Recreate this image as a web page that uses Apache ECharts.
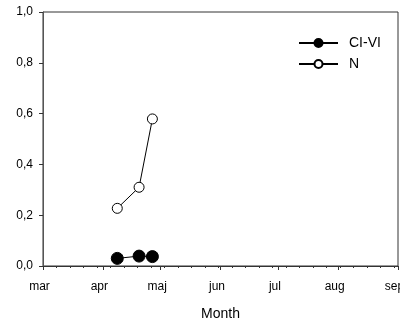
<!DOCTYPE html>
<html>
<head>
<meta charset="utf-8">
<script src="https://cdn.jsdelivr.net/npm/echarts@6/dist/echarts.min.js"></script>
<style>html,body{margin:0;padding:0;background:#fff}#c{width:400px;height:324px}</style>
</head>
<body>
<div id="c"></div>
<script>
// Days counted from 1 March
var monthStarts = [0, 31, 61, 92, 122, 153, 184];
var monthLabels = ['mar', 'apr', 'maj', 'jun', 'jul', 'aug', 'sep'];
var sampleDays = [38.5, 49.8, 56.7];
var civiValues = [0.030, 0.039, 0.037];
var nValues = [0.227, 0.310, 0.579];
var yTicks = [0, 0.2, 0.4, 0.6, 0.8, 1.0];

var FONT = 'Liberation Sans, Arial, sans-serif';
var chart = echarts.init(document.getElementById('c'), null, {renderer: 'canvas'});

function pairs(xs, ys) { return xs.map(function (x, i) { return [x, ys[i]]; }); }

chart.setOption({
  animation: false,
  backgroundColor: '#fff',
  grid: {left: 43, top: 12, right: 2, bottom: 58, show: true, borderColor: '#333', borderWidth: 1,
    backgroundColor: 'transparent', containLabel: false, outerBoundsMode: 'none'},
  legend: {
    orient: 'vertical', left: 293, top: 31, itemWidth: 39, itemHeight: 10, itemGap: 7,
    textStyle: {fontFamily: FONT, fontSize: 14, color: '#000', padding: [0, 0, 0, 6]},
    data: ['CI-VI', 'N']
  },
  xAxis: [{
    type: 'value', min: 0, max: 184,
    name: 'Month', nameLocation: 'middle', nameGap: 41,
    nameTextStyle: {fontFamily: FONT, fontSize: 14, color: '#000'},
    axisLine: {show: true, lineStyle: {color: '#333', width: 1}},
    axisTick: {show: true, length: 4, customValues: monthStarts, lineStyle: {color: '#333'}},
    axisLabel: {
      customValues: monthStarts, margin: 15, fontFamily: FONT, fontSize: 12, color: '#000',
      padding: [0, 7, 0, 0], alignMaxLabel: 'center', alignMinLabel: 'center',
      formatter: function (v) { var i = monthStarts.indexOf(v); return i >= 0 ? monthLabels[i] : ''; }
    },
    splitLine: {show: false}
  }, {
    type: 'value', min: 0, max: 184, interval: 7, position: 'bottom', gridIndex: 0,
    axisLine: {show: false},
    axisTick: {show: true, length: 2, lineStyle: {color: '#333'}},
    axisLabel: {show: false},
    splitLine: {show: false}
  }],
  yAxis: {
    type: 'value', min: 0, max: 1, interval: 0.2,
    axisLine: {show: true, lineStyle: {color: '#555', width: 1}},
    axisTick: {show: true, length: 4, lineStyle: {color: '#333'}},
    axisLabel: {margin: 10, fontFamily: FONT, fontSize: 12, color: '#000',
      formatter: function (v) { return v.toFixed(1).replace('.', ','); }},
    splitLine: {show: false}
  },
  series: [{
    name: 'CI-VI', type: 'line', data: pairs(sampleDays, civiValues),
    symbol: 'circle', symbolSize: 12,
    lineStyle: {color: '#000', width: 1},
    itemStyle: {color: '#000', borderColor: '#000', borderWidth: 1}
  }, {
    name: 'N', type: 'line', data: pairs(sampleDays, nValues),
    symbol: 'circle', symbolSize: 10,
    lineStyle: {color: '#000', width: 1},
    itemStyle: {color: '#fff', borderColor: '#000', borderWidth: 1}
  }]
});
</script>
</body>
</html>
